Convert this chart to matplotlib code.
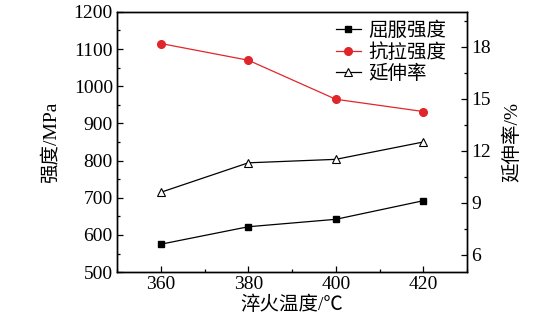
import matplotlib.pyplot as plt
from matplotlib.ticker import MultipleLocator

plt.rcParams["font.family"] = ["Liberation Serif", "Noto Sans CJK SC", "DejaVu Sans"]

temps = [360, 380, 400, 420]
yield_strength = [575, 622, 642, 692]
tensile_strength = [1115, 1070, 965, 932]
elongation = [9.6, 11.3, 11.5, 12.5]

fig = plt.figure(figsize=(5.6, 3.22), dpi=100)
ax = fig.add_axes([0.209, 0.155, 0.625, 0.808])
ax2 = ax.twinx()

l1, = ax.plot(temps, yield_strength, color="black", lw=0.9, marker="s", ms=5,
              label="屈服强度")
l2, = ax.plot(temps, tensile_strength, color="#e0262b", lw=0.9, marker="o", ms=5.5,
              label="抗拉强度")
l3, = ax2.plot(temps, elongation, color="black", lw=0.9, marker="^", ms=6,
               mfc="white", mec="black", mew=0.8, label="延伸率")

ax.set_xlim(350, 430)
ax.set_ylim(500, 1200)
ax2.set_ylim(5, 20)

ax.xaxis.set_major_locator(MultipleLocator(20))
ax.xaxis.set_minor_locator(MultipleLocator(10))
ax.yaxis.set_major_locator(MultipleLocator(100))
ax.yaxis.set_minor_locator(MultipleLocator(50))
ax2.yaxis.set_major_locator(MultipleLocator(3))
ax2.yaxis.set_minor_locator(MultipleLocator(1.5))

for a in (ax, ax2):
    a.tick_params(which="major", direction="in", length=4, width=0.9, labelsize=14)
    a.tick_params(which="minor", direction="in", length=2.5, width=0.9)
    for s in a.spines.values():
        s.set_linewidth(1.0)
ax.tick_params(axis="both", top=False, right=False, pad=3)
ax2.tick_params(axis="y", pad=3)

ax.set_xlabel("淬火温度/℃", fontsize=14, labelpad=2)
ax.set_ylabel("强度/MPa", fontsize=14, labelpad=10)
ax2.set_ylabel("延伸率/%", fontsize=14, rotation=90, labelpad=9)

ax.legend(handles=[l1, l2, l3], loc="upper right", bbox_to_anchor=(0.975, 1.008),
          frameon=False, fontsize=14, handlelength=1.3, handletextpad=0.4,
          labelspacing=0.15, borderaxespad=0.2)

fig.savefig("out.png", dpi=100)
